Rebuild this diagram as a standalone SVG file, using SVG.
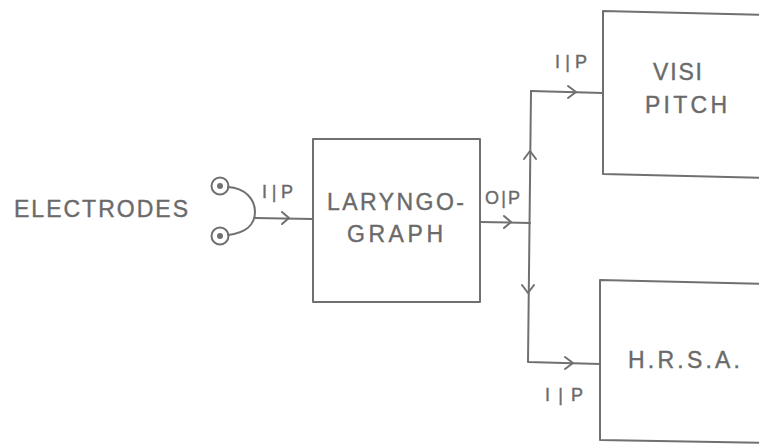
<svg xmlns="http://www.w3.org/2000/svg" width="759" height="446" viewBox="0 0 759 446">
<style>
.ln{fill:none;stroke:#707070;stroke-width:2;stroke-linecap:round;stroke-linejoin:round}
.ar{fill:none;stroke:#707070;stroke-width:2;stroke-linecap:round;stroke-linejoin:round}
.t{font-family:"Liberation Sans",Arial,sans-serif;fill:#6a6a6a;stroke:#6a6a6a;stroke-width:0.4;font-size:23px}
.s{font-family:"Liberation Sans",Arial,sans-serif;fill:#6a6a6a;stroke:#6a6a6a;stroke-width:0.4;font-size:18px}
</style>
<rect width="759" height="446" fill="#ffffff"/>
<g id="electrodes">
<text class="t" x="14" y="217" textLength="174" lengthAdjust="spacing">ELECTRODES</text>
<circle class="ln" cx="220" cy="186" r="8.5" stroke-width="2.5"/>
<circle cx="220" cy="186" r="3" fill="#707070"/>
<circle class="ln" cx="220" cy="236" r="8.5" stroke-width="2.5"/>
<circle cx="220" cy="236" r="3" fill="#707070"/>
<path class="ln" d="M228,187 C245,188 255,199 255,212 C255,225 245,233 228,235"/>
</g>
<g id="larynograph">
<rect class="ln" x="313" y="139" width="167" height="163"/>
<text class="t" x="327" y="210" textLength="137" lengthAdjust="spacing">LARYNGO-</text>
<text class="t" x="347" y="242" textLength="96" lengthAdjust="spacing">GRAPH</text>
</g>
<g id="visipitch">
<path class="ln" d="M770,15 L603,11 L603,174 L770,178"/>
<text class="t" x="653" y="80" textLength="49" lengthAdjust="spacing">VISI</text>
<text class="t" x="645" y="113" textLength="82" lengthAdjust="spacing">PITCH</text>
</g>
<g id="hrsa">
<path class="ln" d="M770,284 L600,280 L600,440 L770,443"/>
<text class="t" x="628" y="368" textLength="112" lengthAdjust="spacing">H.R.S.A.</text>
</g>
<g id="connectors">
<path class="ln" d="M255,218 L313,219"/>
<path class="ar" d="M282,212 L289,218 L282,224"/>
<path class="ln" d="M480,222 L530,223"/>
<path class="ar" d="M504,216 L511,222 L504,228"/>
<path class="ln" d="M531,91 L528,362 L600,364"/>
<path class="ln" d="M531,91 L603,93"/>
<path class="ar" d="M524,159 L530,151 L536,159"/>
<path class="ar" d="M522,285 L528,293 L534,285"/>
<path class="ar" d="M568,86 L576,92 L568,98"/>
<path class="ar" d="M565,357 L573,363 L565,369"/>
<text class="s" x="262" y="198" textLength="31" lengthAdjust="spacing">I|P</text>
<text class="s" x="485" y="204" textLength="35" lengthAdjust="spacing">O|P</text>
<text class="s" x="555" y="68" textLength="32" lengthAdjust="spacing">I|P</text>
<text class="s" x="545" y="401" textLength="38" lengthAdjust="spacing">I|P</text>
</g>
</svg>
